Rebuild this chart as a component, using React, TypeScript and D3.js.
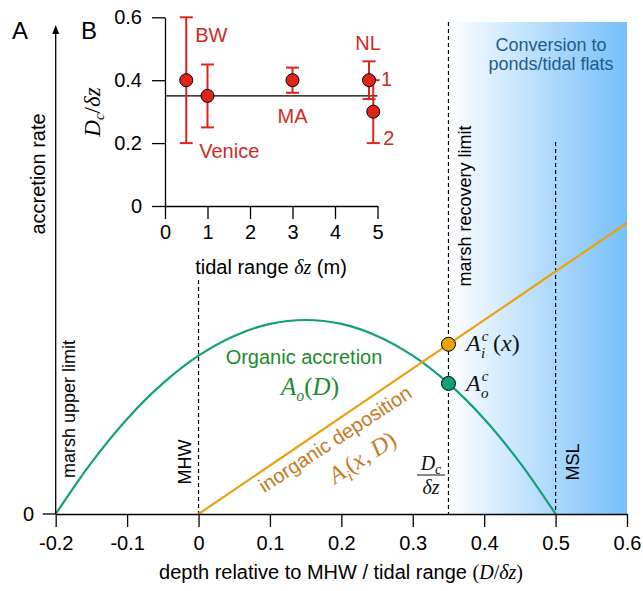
import React, { useEffect, useRef } from 'react';
import * as d3 from 'd3';

// main panel A: accretion rate vs relative depth
const depth = [-0.2, -0.15, -0.1, -0.05, 0, 0.05, 0.1, 0.15, 0.2, 0.25, 0.3, 0.35, 0.4, 0.45, 0.5];
const organicRate = [0, 0.265, 0.49, 0.673, 0.816, 0.918, 0.98, 1.0, 0.98, 0.918, 0.816, 0.673, 0.49, 0.265, 0];
const inorganicDepth = [0, 0.6];
const inorganicRate = [0, 1.5];
const criticalDepth = 0.35;
const criticalInorganic = 0.875;
const criticalOrganic = 0.673;
const mhwDepth = 0;
const mslDepth = 0.5;
const xTicks = [-0.2, -0.1, 0, 0.1, 0.2, 0.3, 0.4, 0.5, 0.6];

// inset panel B: Dc/dz per site
const siteNames = ['BW', 'Venice', 'MA', 'NL1', 'NL2'];
const tidalRange = [0.5, 1, 3, 4.8, 4.9];
const dcMean = [0.4, 0.35, 0.4, 0.4, 0.3];
const dcLow = [0.2, 0.25, 0.36, 0.34, 0.2];
const dcHigh = [0.6, 0.45, 0.44, 0.46, 0.4];
const dcAverage = 0.35;
const insetXTicks = [0, 1, 2, 3, 4, 5];
const insetYTicks = [0, 0.2, 0.4, 0.6];

const SANS = '"Liberation Sans", Arial, Helvetica, sans-serif';
const SERIF = '"Liberation Serif", "Times New Roman", serif';
const GREEN = '#12a07a';
const ORANGE = '#e9a20d';
const RED = '#e2231a';
const RED_TEXT = '#cf2a1f';

const draw = (node: SVGSVGElement) => {
  const svg = d3.select(node);
  svg.selectAll('*').remove();

  const x = d3.scaleLinear().domain([-0.2, 0.6]).range([55.7, 627]);
  const y = d3.scaleLinear().domain([0, 1]).range([514, 320]);

  // pond conversion shading
  const grad = svg.append('defs').append('linearGradient').attr('id', 'pond')
    .attr('x1', '0%').attr('x2', '100%').attr('y1', '0%').attr('y2', '0%');
  grad.append('stop').attr('offset', '0%').attr('stop-color', '#ffffff');
  grad.append('stop').attr('offset', '60%').attr('stop-color', '#aad7fc');
  grad.append('stop').attr('offset', '100%').attr('stop-color', '#76c0fa');
  svg.append('rect')
    .attr('x', x(criticalDepth)).attr('y', 22)
    .attr('width', x(0.6) - x(criticalDepth)).attr('height', y(0) - 22)
    .attr('fill', 'url(#pond)');

  svg.append('text').attr('x', 551).attr('y', 51)
    .attr('text-anchor', 'middle').attr('font-family', SANS).attr('font-size', 18)
    .attr('fill', '#1c5c8c').text('Conversion to');
  svg.append('text').attr('x', 551).attr('y', 70)
    .attr('text-anchor', 'middle').attr('font-family', SANS).attr('font-size', 18)
    .attr('fill', '#1c5c8c').text('ponds/tidal flats');

  // dashed reference lines
  const dashed = [
    { d: mhwDepth, top: 280 },
    { d: criticalDepth, top: 22 },
    { d: mslDepth, top: 142 },
  ];
  svg.selectAll('.ref').data(dashed).enter().append('line')
    .attr('x1', d => x(d.d)).attr('x2', d => x(d.d))
    .attr('y1', d => d.top).attr('y2', y(0))
    .attr('stroke', '#000').attr('stroke-width', 1.2).attr('stroke-dasharray', '4,3');

  const vlabel = (cx: number, cy: number, txt: string) => {
    svg.append('text')
      .attr('transform', `translate(${cx},${cy}) rotate(-90)`)
      .attr('text-anchor', 'middle').attr('dy', '0.35em')
      .attr('font-family', SANS).attr('font-size', 18).text(txt);
  };
  vlabel(69, 409, 'marsh upper limit');
  vlabel(185, 462, 'MHW');
  vlabel(465, 206, 'marsh recovery limit');
  vlabel(573, 462, 'MSL');

  // curves
  const organic = d3.line<number>()
    .x((d, i) => x(depth[i]))
    .y(d => y(d))
    .curve(d3.curveCatmullRom);
  svg.append('path').attr('d', organic(organicRate))
    .attr('fill', 'none').attr('stroke', GREEN).attr('stroke-width', 2.2);

  const inorganic = d3.line<number>()
    .x((d, i) => x(inorganicDepth[i]))
    .y(d => y(d));
  svg.append('path').attr('d', inorganic(inorganicRate))
    .attr('fill', 'none').attr('stroke', ORANGE).attr('stroke-width', 2.2);

  // axes
  const xAxis = svg.append('g')
    .attr('transform', `translate(0,${y(0)})`)
    .call(d3.axisBottom(x).tickValues(xTicks).tickFormat(d => String(d))
      .tickSize(13).tickSizeOuter(0).tickPadding(9));
  xAxis.attr('font-family', SANS).attr('font-size', 20);
  xAxis.selectAll('path, line').attr('stroke-width', 1.3);

  const x0 = x(-0.2);
  svg.append('line').attr('x1', x0).attr('x2', x0).attr('y1', y(0)).attr('y2', 32)
    .attr('stroke', '#000').attr('stroke-width', 1.3);
  svg.append('path').attr('d', `M${x0 - 3.5},34 L${x0},25 L${x0 + 3.5},34 Z`).attr('fill', '#000');
  svg.append('line').attr('x1', x0 - 13).attr('x2', x0).attr('y1', y(0)).attr('y2', y(0))
    .attr('stroke', '#000').attr('stroke-width', 1.3);
  svg.append('text').attr('x', 34).attr('y', y(0)).attr('dy', '0.35em')
    .attr('text-anchor', 'end').attr('font-family', SANS).attr('font-size', 20).text('0');

  svg.append('text')
    .attr('transform', 'translate(38,174) rotate(-90)')
    .attr('text-anchor', 'middle').attr('dy', '0.35em')
    .attr('font-family', SANS).attr('font-size', 20).text('accretion rate');

  const xt = svg.append('text').attr('x', 341).attr('y', 579)
    .attr('text-anchor', 'middle').attr('font-family', SANS).attr('font-size', 20);
  xt.append('tspan').text('depth relative to MHW / tidal range ');
  xt.append('tspan').attr('font-family', SERIF).text('(');
  xt.append('tspan').attr('font-family', SERIF).attr('font-style', 'italic').text('D');
  xt.append('tspan').attr('font-family', SERIF).text('/');
  xt.append('tspan').attr('font-family', SERIF).attr('font-style', 'italic').text('δz');
  xt.append('tspan').attr('font-family', SERIF).text(')');

  // curve labels
  svg.append('text').attr('x', 304).attr('y', 364).attr('text-anchor', 'middle')
    .attr('font-family', SANS).attr('font-size', 20).attr('fill', '#1d8a2e').text('Organic accretion');
  const ao = svg.append('text').attr('x', 310).attr('y', 395).attr('text-anchor', 'middle')
    .attr('font-family', SERIF).attr('font-size', 25).attr('fill', '#1d8a2e');
  ao.append('tspan').attr('font-style', 'italic').text('A');
  ao.append('tspan').attr('font-style', 'italic').attr('font-size', 16).attr('dy', 6).text('o');
  ao.append('tspan').attr('dy', -6).text('(');
  ao.append('tspan').attr('font-style', 'italic').text('D');
  ao.append('tspan').text(')');

  svg.append('text')
    .attr('transform', 'translate(335,439) rotate(-33)')
    .attr('text-anchor', 'middle').attr('dy', '0.35em')
    .attr('font-family', SANS).attr('font-size', 20).attr('fill', '#c47a26').text('inorganic deposition');
  const ai = svg.append('text')
    .attr('transform', 'translate(362,457) rotate(-33)')
    .attr('text-anchor', 'middle').attr('dy', '0.35em')
    .attr('font-family', SERIF).attr('font-size', 24).attr('fill', '#c47a26');
  ai.append('tspan').attr('font-style', 'italic').text('A');
  ai.append('tspan').attr('font-style', 'italic').attr('font-size', 16).attr('dy', 6).text('i');
  ai.append('tspan').attr('dy', -6).text('(');
  ai.append('tspan').attr('font-style', 'italic').text('x');
  ai.append('tspan').text(', ');
  ai.append('tspan').attr('font-style', 'italic').text('D');
  ai.append('tspan').text(')');

  // critical points
  svg.append('circle').attr('cx', x(criticalDepth)).attr('cy', y(criticalInorganic)).attr('r', 7)
    .attr('fill', ORANGE).attr('stroke', '#000').attr('stroke-width', 1);
  svg.append('circle').attr('cx', x(criticalDepth)).attr('cy', y(criticalOrganic)).attr('r', 7)
    .attr('fill', GREEN).attr('stroke', '#000').attr('stroke-width', 1);

  // A with stacked super/subscript, as one text element
  const critLabel = (lx: number, ly: number, sub: string, withArg: boolean) => {
    const t = svg.append('text').attr('x', lx).attr('y', ly)
      .attr('font-family', SERIF).attr('font-style', 'italic').attr('font-size', 24).attr('fill', '#111');
    t.append('tspan').text('A');
    t.append('tspan').attr('font-size', 15).attr('dx', 1).attr('dy', -10).text('c');
    t.append('tspan').attr('font-size', 15).attr('x', lx + 15).attr('dy', 17).text(sub);
    if (withArg) {
      t.append('tspan').attr('x', lx + 27).attr('dy', -7).attr('font-style', 'normal').text('(');
      t.append('tspan').text('x');
      t.append('tspan').attr('font-style', 'normal').text(')');
    }
  };
  critLabel(466, y(criticalInorganic) + 7, 'i', true);
  critLabel(466, y(criticalOrganic) + 8, 'o', false);

  // Dc/dz fraction on the main axis
  const fx = 431;
  const fr = svg.append('g').attr('font-family', SERIF).attr('font-style', 'italic').attr('fill', '#111');
  const num = fr.append('text').attr('x', fx).attr('y', 470).attr('text-anchor', 'middle').attr('font-size', 20);
  num.append('tspan').text('D');
  num.append('tspan').attr('font-size', 14).attr('dy', 4).text('c');
  fr.append('line').attr('x1', fx - 14).attr('x2', fx + 14).attr('y1', 475).attr('y2', 475)
    .attr('stroke', '#111').attr('stroke-width', 1);
  fr.append('text').attr('x', fx).attr('y', 494).attr('text-anchor', 'middle').attr('font-size', 20).text('δz');

  // panel letters
  svg.append('text').attr('x', 12).attr('y', 39).attr('font-family', SANS).attr('font-size', 24).text('A');
  svg.append('text').attr('x', 81).attr('y', 39).attr('font-family', SANS).attr('font-size', 24).text('B');

  // ---- inset B ----
  const ix = d3.scaleLinear().domain([0, 5]).range([165, 377.5]);
  const iy = d3.scaleLinear().domain([0, 0.6]).range([206, 17.3]);

  const ixAxis = svg.append('g').attr('transform', `translate(0,${iy(0)})`)
    .call(d3.axisBottom(ix).tickValues(insetXTicks).tickFormat(d => String(d))
      .tickSize(13).tickSizeOuter(0).tickPadding(6));
  ixAxis.attr('font-family', SANS).attr('font-size', 20);
  ixAxis.selectAll('path, line').attr('stroke-width', 1.3);

  const iyAxis = svg.append('g').attr('transform', `translate(${ix(0)},0)`)
    .call(d3.axisLeft(iy).tickValues(insetYTicks).tickFormat(d => String(d))
      .tickSize(13).tickSizeOuter(0).tickPadding(10));
  iyAxis.attr('font-family', SANS).attr('font-size', 20);
  iyAxis.selectAll('path, line').attr('stroke-width', 1.3);

  svg.append('line').attr('x1', ix(0)).attr('x2', ix(5)).attr('y1', iy(dcAverage)).attr('y2', iy(dcAverage))
    .attr('stroke', '#000').attr('stroke-width', 1.2);

  const bars = svg.append('g').attr('stroke', RED).attr('stroke-width', 2);
  siteNames.forEach((s, i) => {
    const cx = ix(tidalRange[i]);
    bars.append('line').attr('x1', cx).attr('x2', cx).attr('y1', iy(dcLow[i])).attr('y2', iy(dcHigh[i]));
    bars.append('line').attr('x1', cx - 6.5).attr('x2', cx + 6.5).attr('y1', iy(dcLow[i])).attr('y2', iy(dcLow[i]));
    bars.append('line').attr('x1', cx - 6.5).attr('x2', cx + 6.5).attr('y1', iy(dcHigh[i])).attr('y2', iy(dcHigh[i]));
  });
  svg.selectAll('.site').data(siteNames).enter().append('circle')
    .attr('cx', (d, i) => ix(tidalRange[i])).attr('cy', (d, i) => iy(dcMean[i])).attr('r', 6.5)
    .attr('fill', RED).attr('stroke', '#000').attr('stroke-width', 1);

  const siteLabel = (lx: number, ly: number, txt: string, anchor = 'start') => {
    svg.append('text').attr('x', lx).attr('y', ly).attr('text-anchor', anchor)
      .attr('font-family', SANS).attr('font-size', 20).attr('fill', RED_TEXT).text(txt);
  };
  siteLabel(ix(tidalRange[0]) + 9, 42, 'BW');
  siteLabel(ix(tidalRange[0]) + 13, 158, 'Venice');
  siteLabel(ix(tidalRange[2]), 123, 'MA', 'middle');
  siteLabel(ix(tidalRange[3]) - 1, 50, 'NL', 'middle');
  siteLabel(ix(tidalRange[3]) + 12, 86, '1');
  siteLabel(ix(tidalRange[4]) + 10, 145, '2');

  const iyl = svg.append('text').attr('transform', 'translate(92,112) rotate(-90)')
    .attr('text-anchor', 'middle').attr('dy', '0.35em').attr('font-family', SERIF).attr('font-size', 23);
  iyl.append('tspan').attr('font-style', 'italic').text('D');
  iyl.append('tspan').attr('font-style', 'italic').attr('font-size', 15).attr('dy', 4).text('c');
  iyl.append('tspan').attr('dy', -4).text('/');
  iyl.append('tspan').attr('font-style', 'italic').text('δz');

  const ixl = svg.append('text').attr('x', 271).attr('y', 274).attr('text-anchor', 'middle')
    .attr('font-family', SANS).attr('font-size', 20);
  ixl.append('tspan').text('tidal range ');
  ixl.append('tspan').attr('font-family', SERIF).attr('font-style', 'italic').text('δz');
  ixl.append('tspan').text(' (m)');
};

const App = () => {
  const ref = useRef<SVGSVGElement>(null);
  useEffect(() => {
    if (ref.current) draw(ref.current);
  }, []);
  return (
    <svg
      ref={ref}
      width={643}
      height={591}
      style={{ position: 'absolute', left: 0, top: 0, background: '#fff' }}
    />
  );
};

export default App;
